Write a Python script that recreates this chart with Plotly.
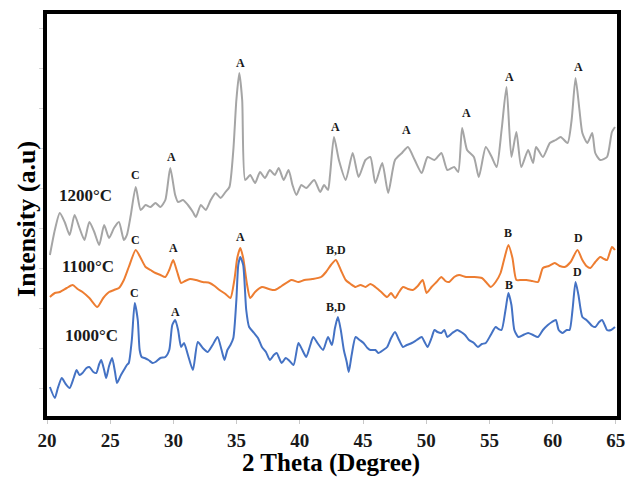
import plotly.graph_objects as go

# ---------------- data ----------------
theta_1200 = [
    20.23, 20.62, 21.01, 21.40, 21.79, 22.18, 22.57, 22.96, 23.35, 23.74,
    24.13, 24.52, 24.91, 25.30, 25.69, 26.08, 26.32, 26.63, 27.02, 27.41,
    27.80, 28.19, 28.58, 28.97, 29.36, 29.75, 30.14, 30.37, 30.76, 31.15,
    31.54, 31.78, 32.17, 32.56, 32.95, 33.34, 33.73, 34.12, 34.43, 34.74,
    34.98, 35.21, 35.44, 35.68, 36.07, 36.46, 36.85, 37.24, 37.63, 38.02,
    38.33, 38.72, 39.11, 39.42, 39.73, 40.12, 40.51, 41.14, 41.61, 41.92,
    42.23, 42.39, 42.70, 43.09, 43.63, 44.18, 44.65, 45.19, 45.58, 45.97,
    46.52, 46.99, 47.53, 48.08, 48.55, 49.09, 49.64, 50.11, 50.65, 51.20,
    51.67, 52.21, 52.53, 52.84, 53.23, 53.77, 54.16, 54.71, 55.18, 55.57,
    55.96, 56.35, 56.74, 57.13, 57.52, 58.06, 58.45, 58.69, 59.23, 59.78,
    60.25, 60.64, 61.18, 61.50, 61.81, 62.12, 62.35, 62.74, 63.13, 63.37,
    63.76, 64.30, 64.69, 64.93,
]
intensity_1200 = [
    159, 184, 201, 192, 179, 199, 186, 174, 192, 182,
    169, 189, 176, 186, 192, 174, 179, 199, 227, 204,
    209, 207, 211, 207, 214, 246, 219, 212, 214, 209,
    202, 197, 209, 204, 214, 221, 216, 222, 227, 264,
    314, 341, 314, 234, 239, 231, 242, 236, 244, 239,
    246, 234, 244, 229, 219, 229, 226, 234, 222, 229,
    224, 239, 277, 254, 234, 261, 237, 254, 257, 231,
    251, 221, 254, 261, 267, 254, 241, 257, 254, 261,
    244, 247, 242, 286, 264, 257, 237, 267, 257, 247,
    284, 327, 257, 282, 247, 264, 251, 267, 257, 271,
    274, 277, 271, 294, 336, 304, 281, 271, 281, 261,
    254, 257, 282, 287,
]

theta_1100 = [
    20.23, 20.62, 21.01, 21.56, 22.03, 22.42, 22.81, 23.35, 23.98, 24.45,
    24.91, 25.30, 25.69, 26.08, 26.47, 27.02, 27.41, 27.80, 28.19, 28.58,
    28.97, 29.36, 29.67, 29.98, 30.30, 30.61, 30.92, 31.31, 31.78, 32.32,
    32.87, 33.26, 33.65, 34.12, 34.51, 34.82, 35.05, 35.29, 35.52, 35.83,
    36.07, 36.46, 37.00, 37.55, 38.02, 38.56, 39.34, 39.89, 40.36, 40.98,
    41.68, 42.07, 42.46, 42.85, 43.24, 43.63, 44.02, 44.41, 44.80, 45.19,
    45.58, 45.97, 46.44, 46.91, 47.22, 47.53, 47.85, 48.16, 48.55, 48.94,
    49.33, 49.72, 50.03, 50.42, 50.81, 51.20, 51.51, 51.82, 52.21, 52.60,
    53.15, 53.77, 54.40, 54.79, 55.10, 55.49, 55.88, 56.19, 56.50, 56.82,
    57.13, 57.52, 57.91, 58.38, 58.84, 59.23, 59.70, 60.17, 60.56, 60.95,
    61.42, 61.96, 62.35, 62.67, 62.98, 63.37, 63.76, 64.07, 64.30, 64.69,
    64.93,
]
intensity_1100 = [
    117, 121, 122, 126, 129, 125, 122, 116, 107, 116,
    122, 124, 126, 134, 147, 164, 156, 147, 144, 141,
    139, 137, 144, 154, 142, 131, 133, 135, 134, 132,
    131, 128, 124, 120, 116, 134, 156, 166, 156, 129,
    116, 122, 127, 125, 124, 128, 134, 132, 134, 135,
    137, 142, 149, 154, 144, 134, 130, 127, 129, 127,
    130, 127, 122, 117, 121, 116, 122, 127, 125, 124,
    128, 134, 121, 127, 132, 137, 133, 132, 137, 139,
    137, 137, 136, 131, 127, 132, 141, 156, 169, 156,
    134, 134, 134, 133, 132, 146, 148, 151, 148, 147,
    152, 164, 154, 148, 146, 152, 157, 155, 154, 167,
    164,
]

theta_1000 = [
    20.23, 20.62, 20.86, 21.17, 21.48, 21.79, 22.11, 22.34, 22.57, 22.81,
    23.12, 23.35, 23.67, 23.90, 24.13, 24.29, 24.52, 24.68, 24.91, 25.15,
    25.38, 25.54, 25.85, 26.08, 26.32, 26.47, 26.71, 26.94, 27.18, 27.33,
    27.49, 27.72, 28.03, 28.35, 28.58, 28.97, 29.36, 29.67, 29.91, 30.14,
    30.37, 30.61, 30.84, 31.15, 31.54, 31.93, 32.32, 32.71, 33.10, 33.49,
    33.81, 34.04, 34.27, 34.51, 34.74, 34.98, 35.13, 35.29, 35.52, 35.76,
    35.99, 36.38, 36.69, 37.00, 37.32, 37.63, 37.94, 38.17, 38.56, 38.88,
    39.11, 39.50, 39.89, 40.20, 40.51, 40.83, 41.06, 41.45, 41.84, 42.23,
    42.54, 42.78, 43.01, 43.24, 43.48, 43.71, 43.87, 44.10, 44.41, 44.73,
    45.04, 45.35, 45.58, 45.97, 46.21, 46.60, 46.91, 47.22, 47.53, 47.85,
    48.16, 48.47, 48.86, 49.25, 49.64, 49.87, 50.11, 50.42, 50.65, 50.89,
    51.20, 51.43, 51.67, 52.06, 52.45, 52.76, 53.07, 53.38, 53.77, 54.09,
    54.40, 54.71, 55.10, 55.49, 55.72, 55.96, 56.27, 56.50, 56.74, 56.97,
    57.28, 57.67, 58.06, 58.45, 58.84, 59.23, 59.62, 59.94, 60.25, 60.48,
    60.79, 61.11, 61.34, 61.57, 61.81, 62.04, 62.35, 62.67, 62.90, 63.13,
    63.37, 63.68, 63.91, 64.15, 64.30, 64.62, 64.93,
]
intensity_1000 = [
    27, 16, 26, 36, 30, 26, 36, 44, 39, 41,
    46, 47, 42, 41, 50, 54, 44, 36, 48, 56,
    42, 31, 39, 44, 49, 51, 74, 111, 94, 64,
    57, 56, 54, 51, 52, 56, 57, 64, 89, 94,
    84, 67, 71, 59, 44, 72, 66, 62, 69, 77,
    64, 54, 64, 69, 76, 114, 149, 157, 149, 104,
    87, 81, 76, 67, 62, 54, 59, 61, 51, 56,
    54, 49, 71, 64, 57, 69, 77, 70, 64, 77,
    69, 86, 97, 84, 64, 52, 42, 59, 77, 74,
    71, 66, 64, 64, 61, 64, 67, 76, 82, 74,
    67, 69, 71, 74, 77, 72, 67, 76, 84, 82,
    81, 84, 77, 81, 84, 82, 79, 74, 71, 67,
    70, 71, 79, 87, 85, 84, 104, 121, 109, 84,
    77, 79, 81, 79, 77, 84, 89, 92, 94, 84,
    81, 84, 84, 104, 132, 119, 97, 94, 91, 88,
    87, 92, 94, 88, 84, 84, 87,
]

# peak labels: (text, 2theta, intensity position)
peak_text_1200 = ["C", "A", "A", "A", "A", "A", "A", "A"]
peak_x_1200 = [27.02, 29.83, 35.27, 42.85, 48.47, 53.15, 56.58, 62.04]
peak_y_1200 = [239, 257, 351, 287, 284, 301, 337, 347]

peak_text_1100 = ["C", "A", "A", "B,D", "B", "D"]
peak_x_1100 = [27.02, 29.98, 35.29, 42.85, 56.50, 62.04]
peak_y_1100 = [174, 166, 177, 164, 181, 176]

peak_text_1000 = ["C", "A", "B,D", "B", "D"]
peak_x_1000 = [26.94, 30.14, 42.85, 56.58, 61.96]
peak_y_1000 = [121, 102, 107, 129, 142]

series_names = ["1200°C", "1100°C", "1000°C"]
series_label_x = [23.04, 23.28, 23.51]
series_label_y = [219, 148, 79]

x_ticks = [20, 25, 30, 35, 40, 45, 50, 55, 60, 65]

# ---------------- figure ----------------
SERIF = "Liberation Serif, Times New Roman, serif"
colors = ["#a5a5a5", "#ed7d31", "#4472c4"]

fig = go.Figure()
for xs, ys, c, n in [
    (theta_1200, intensity_1200, colors[0], series_names[0]),
    (theta_1100, intensity_1100, colors[1], series_names[1]),
    (theta_1000, intensity_1000, colors[2], series_names[2]),
]:
    fig.add_trace(go.Scatter(
        x=xs, y=ys, mode="lines", name=n,
        line=dict(color=c, width=2, shape="spline", smoothing=0.6),
        showlegend=False,
    ))

annotations = []
for texts, xs, ys in [
    (peak_text_1200, peak_x_1200, peak_y_1200),
    (peak_text_1100, peak_x_1100, peak_y_1100),
    (peak_text_1000, peak_x_1000, peak_y_1000),
]:
    for t, x, y in zip(texts, xs, ys):
        annotations.append(dict(
            x=x, y=y, xref="x", yref="y", text=t, showarrow=False,
            font=dict(family=SERIF, size=12, color="#1a1a1a", weight="bold"),
            xanchor="center", yanchor="middle",
        ))
for t, x, y in zip(series_names, series_label_x, series_label_y):
    annotations.append(dict(
        x=x, y=y, xref="x", yref="y", text=t, showarrow=False,
        font=dict(family=SERIF, size=17, color="#1a1a1a", weight="bold"),
        xanchor="center", yanchor="middle",
    ))
# axis titles
annotations.append(dict(
    x=0.498, y=-0.117, xref="paper", yref="paper", text="2 Theta (Degree)",
    showarrow=False, xanchor="center", yanchor="middle",
    font=dict(family=SERIF, size=25, color="black", weight="bold"),
))
annotations.append(dict(
    x=-0.037, y=0.49, xref="paper", yref="paper", text="Intensity (a.u)",
    showarrow=False, xanchor="center", yanchor="middle", textangle=-90,
    font=dict(family=SERIF, size=26, color="black", weight="bold"),
))

fig.update_layout(
    width=630, height=478,
    margin=dict(l=47, r=5, t=14, b=62),
    paper_bgcolor="white", plot_bgcolor="white",
    annotations=annotations,
    xaxis=dict(
        range=[20, 65.09], tickvals=x_ticks, ticktext=[str(v) for v in x_ticks],
        showgrid=False, zeroline=False,
        showline=True, linewidth=4, linecolor="black", mirror=True,
        ticks="outside", ticklen=4, tickwidth=1, tickcolor="#c8c8c8",
        tickfont=dict(family=SERIF, size=19, color="#1a1a1a", weight="bold"),
    ),
    yaxis=dict(
        range=[-2, 400], showgrid=False, zeroline=False,
        showline=True, linewidth=4, linecolor="black", mirror=True,
        ticks="outside", ticklen=4, tickwidth=1, tickcolor="#d8d8d8",
        tick0=26, dtick=40, showticklabels=False,
    ),
)

fig.write_html(
    "out.html",
    config={"displayModeBar": False},
    post_script="document.body.style.margin='0';document.body.style.padding='0';",
)
